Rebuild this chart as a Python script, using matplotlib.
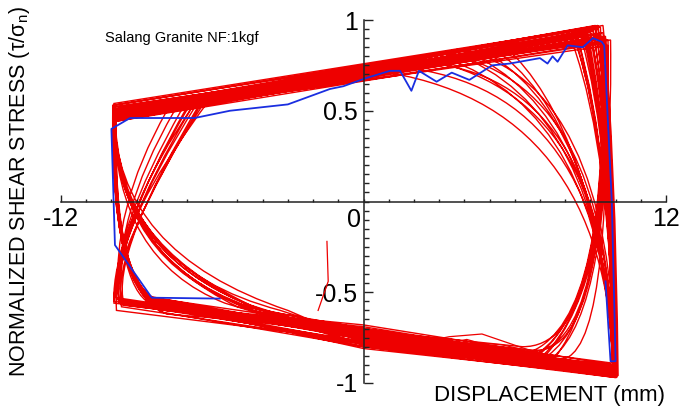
#Shear stress vs displacement loops for the granite joint test
import matplotlib
matplotlib.use('Agg')
import matplotlib.pyplot as plt
from matplotlib.path import Path
from matplotlib.patches import PathPatch
from matplotlib.ticker import MultipleLocator, FixedLocator

plt.rcParams['font.family'] = ['Liberation Sans', 'DejaVu Sans']
plt.rcParams['axes.unicode_minus'] = False

# each cycle: bottom-left start -> (left reversal via control) -> top-left -> top-right
# -> (right reversal via control) -> bottom-right -> stress at 0 mm -> next cycle
x_bl = [-8.3, -8.0, -8.4, -7.9, -9.7, -8.2, -8.6, -4.0, -8.1, -9.8, -8.0, -8.3, -5.0, -9.6, -9.6, -7.8,
        -3.5, -8.2, -9.9, -8.4, -4.5, -8.0, -9.5, -8.3, -3.0, -8.1, -9.8, -8.5, -5.5, -4.6, -9.7, -4.2,
        -8.2, -8.6, -9.6, -8.0, -4.8, -8.3, -8.1, -9.9, -8.4, -9.8, -3.8, -8.2, -9.7, -3.3, -8.1, -4.4]
y_bl = [-0.55, -0.58, -0.53, -0.60, -0.56, -0.57, -0.52, -0.60, -0.56, -0.53, -0.61, -0.54, -0.58, -0.55, -0.58, -0.62,
        -0.62, -0.56, -0.55, -0.53, -0.57, -0.59, -0.57, -0.55, -0.60, -0.57, -0.54, -0.54, -0.56, -0.58, -0.55, -0.59,
        -0.54, -0.55, -0.57, -0.59, -0.58, -0.57, -0.58, -0.56, -0.54, -0.60, -0.61, -0.56, -0.54, -0.60, -0.57, -0.60]
cx_l = [-10.0, -10.05, -9.95, -10.0, -10.05, -10.0, -9.95, -9.9, -10.0, -10.0, -10.0, -9.95, -9.9, -10.0, -10.05, -10.0,
        -9.85, -10.0, -10.0, -9.95, -9.9, -10.0, -10.05, -10.0, -9.9, -10.0, -10.0, -9.95, -9.85, -9.9, -10.05, -9.9,
        -10.0, -9.95, -10.0, -10.0, -9.95, -10.0, -10.05, -10.0, -9.95, -10.0, -9.9, -10.0, -10.05, -9.9, -10.0, -9.9]
cy_l = [-0.42, -0.45, -0.40, -0.48, -0.22, -0.44, -0.38, -0.30, -0.43, -0.18, -0.47, -0.40, -0.25, -0.20, -0.25, -0.50,
        -0.35, -0.44, -0.20, -0.41, -0.22, -0.46, -0.28, -0.43, -0.28, -0.45, -0.15, -0.40, -0.32, -0.33, -0.24, -0.26,
        -0.43, -0.41, -0.10, -0.46, -0.28, -0.44, -0.45, -0.30, -0.40, -0.12, -0.38, -0.42, -0.05, -0.36, -0.45, -0.30]
x_tl = [-9.9, -9.85, -9.9, -9.8, -6.6, -9.95, -9.85, -9.9, -9.9, -7.2, -9.8, -9.9, -9.9, -7.0, -6.2, -9.9,
        -9.9, -9.95, -6.9, -9.85, -9.9, -9.9, -6.4, -9.85, -9.9, -9.9, -6.0, -9.9, -9.9, -9.85, -6.8, -9.9,
        -9.9, -9.85, -7.5, -9.9, -9.9, -9.95, -9.9, -6.3, -9.85, -6.6, -9.9, -9.9, -7.8, -9.85, -9.9, -9.9]
y_tl = [0.46, 0.49, 0.44, 0.51, 0.54, 0.47, 0.50, 0.45, 0.52, 0.51, 0.48, 0.54, 0.47, 0.52, 0.57, 0.50,
        0.48, 0.46, 0.53, 0.51, 0.44, 0.49, 0.56, 0.47, 0.50, 0.45, 0.58, 0.53, 0.46, 0.48, 0.52, 0.47,
        0.48, 0.50, 0.50, 0.46, 0.49, 0.53, 0.47, 0.57, 0.46, 0.56, 0.52, 0.45, 0.50, 0.51, 0.48, 0.46]
x_tr = [9.0, 4.0, 9.6, 9.3, 8.4, 1.5, 9.5, 8.9, 9.4, 8.8, 3.0, 9.1, 9.7, 8.5, 0.5, 9.5,
        8.7, 9.5, 9.0, 2.2, 9.4, 9.8, 8.3, 3.8, 9.2, 9.6, 3.2, 5.5, 9.5, 9.1, 2.8, 8.6,
        8.9, 9.6, 9.2, 8.4, 4.5, 9.4, 9.7, 8.7, 5.0, 9.0, 9.5, 9.4, 8.5, 9.3, 3.5, 8.8]
y_tr = [0.90, 0.83, 0.88, 0.95, 0.90, 0.74, 0.97, 0.88, 0.92, 0.94, 0.82, 0.96, 0.86, 0.89, 0.72, 0.90,
        0.95, 0.90, 0.93, 0.79, 0.91, 0.89, 0.87, 0.84, 0.97, 0.91, 0.79, 0.87, 0.87, 0.94, 0.76, 0.92,
        0.92, 0.90, 0.95, 0.88, 0.85, 0.96, 0.89, 0.91, 0.86, 0.94, 0.93, 0.91, 0.90, 0.97, 0.82, 0.92]
cx_r = [9.9, 9.6, 9.9, 9.95, 9.9, 9.7, 10.0, 9.85, 9.95, 9.9, 9.8, 9.95, 9.85, 9.85, 9.6, 9.9,
        9.9, 9.9, 9.95, 9.9, 9.9, 9.95, 9.85, 9.8, 9.95, 9.9, 9.5, 9.3, 9.85, 9.9, 9.75, 9.9,
        9.9, 9.9, 9.95, 9.85, 9.5, 9.9, 9.85, 9.9, 9.4, 9.9, 9.95, 9.9, 9.85, 9.95, 9.5, 9.9]
cy_r = [0.30, 0.50, -0.50, 0.35, 0.20, 0.62, 0.30, 0.28, -0.85, 0.32, 0.68, 0.25, -0.60, 0.22, 0.55, -0.60,
        0.28, -0.83, 0.30, 0.60, 0.32, -0.45, 0.26, 0.66, 0.30, -0.86, 0.50, 0.40, -0.81, 0.33, 0.64, 0.29,
        0.25, -0.50, 0.30, 0.30, 0.50, -0.65, -0.45, 0.28, 0.45, 0.30, 0.32, -0.55, 0.24, 0.28, 0.52, 0.30]
x_br = [9.95, 9.9, 7.0, 10.05, 9.9, 9.95, 10.1, 9.85, 6.5, 10.0, 9.9, 10.0, 7.5, 9.9, 9.95, 7.3,
        9.9, 6.8, 10.0, 9.9, 9.95, 7.2, 9.9, 10.0, 10.05, 7.8, 9.9, 9.95, 6.3, 10.0, 9.95, 9.9,
        9.95, 7.1, 10.0, 9.9, 9.9, 6.6, 7.6, 9.9, 9.95, 10.0, 10.05, 6.9, 9.9, 10.0, 9.9, 9.95]
y_br = [-0.92, -0.95, -0.84, -0.93, -0.90, -0.93, -0.96, -0.89, -0.83, -0.97, -0.91, -0.94, -0.86, -0.92, -0.95, -0.85,
        -0.96, -0.82, -0.93, -0.90, -0.94, -0.85, -0.91, -0.94, -0.97, -0.87, -0.92, -0.95, -0.80, -0.92, -0.93, -0.93,
        -0.94, -0.85, -0.95, -0.91, -0.92, -0.83, -0.86, -0.93, -0.94, -0.92, -0.95, -0.84, -0.90, -0.97, -0.91, -0.93]
y_back_0 = [-0.72, -0.75, -0.70, -0.77, -0.68, -0.74, -0.79, -0.71, -0.73, -0.80, -0.76, -0.74, -0.69, -0.78, -0.71, -0.75,
            -0.81, -0.72, -0.70, -0.77, -0.73, -0.74, -0.76, -0.78, -0.70, -0.75, -0.72, -0.79, -0.71, -0.74, -0.77, -0.73,
            -0.76, -0.73, -0.78, -0.70, -0.75, -0.79, -0.72, -0.74, -0.77, -0.73, -0.80, -0.71, -0.75, -0.78, -0.74, -0.76]

# odd bits of the red record
spike_x = [-1.45, -1.4, -1.8]
spike_y = [-0.22, -0.44, -0.6]
bump1_x = [2.5, 3.4, 4.7, 6.6, 7.2]
bump1_y = [-0.77, -0.745, -0.73, -0.82, -0.85]
bump2_x = [3.0, 4.1, 4.6, 5.5, 6.8]
bump2_y = [-0.79, -0.76, -0.78, -0.79, -0.83]

# first cycle (blue)
blue_x = [-5.7, -8.4, -9.86, -10.0, -9.26, -6.7, -5.3, -3.0, -1.33, -0.8, 0.1, 1.05, 1.45, 1.9, 2.2, 2.9,
          3.5, 4.2, 5.1, 5.8, 7.0, 7.3, 7.5, 7.7, 8.1, 8.7, 9.1, 9.45, 9.55, 9.85, 10.0, 9.8, 9.6]
blue_y = [-0.535, -0.53, -0.24, 0.40, 0.46, 0.46, 0.50, 0.535, 0.62, 0.635, 0.68, 0.72, 0.72, 0.61, 0.72, 0.66,
          0.71, 0.67, 0.75, 0.76, 0.79, 0.76, 0.80, 0.77, 0.86, 0.85, 0.90, 0.88, 0.86, 0.0, -0.88, -0.88, -0.44]

red = '#ee0000'
blue = '#1a2ee0'

fig = plt.figure(figsize=(6.82, 4.12), dpi=100)
ax = fig.add_axes([61 / 682, 29 / 412, 605 / 682, 363 / 412])

verts = []
codes = []
n = len(x_bl)
for i in range(n):
    if i == 0:
        verts.append((x_bl[i], y_bl[i]))
        codes.append(Path.MOVETO)
    verts += [(cx_l[i], cy_l[i]), (x_tl[i], y_tl[i])]
    codes += [Path.CURVE3, Path.CURVE3]
    verts.append((x_tr[i], y_tr[i]))
    codes.append(Path.LINETO)
    verts += [(cx_r[i], cy_r[i]), (x_br[i], y_br[i])]
    codes += [Path.CURVE3, Path.CURVE3]
    verts.append((0, y_back_0[i]))
    codes.append(Path.LINETO)
    if i + 1 < n:
        verts.append((x_bl[i + 1], y_bl[i + 1]))
        codes.append(Path.LINETO)

ax.add_patch(PathPatch(Path(verts, codes), fill=False, edgecolor=red, lw=1.0))
ax.plot(spike_x, spike_y, color=red, lw=0.9)
ax.plot(bump1_x, bump1_y, color=red, lw=0.9)
ax.plot(bump2_x, bump2_y, color=red, lw=0.9)
ax.plot(blue_x, blue_y, color=blue, lw=1.3)

ax.set_xlim(-12, 12)
ax.set_ylim(-1, 1)
for s in ['top', 'right']:
    ax.spines[s].set_visible(False)
ax.spines['left'].set_position(('data', 0))
ax.spines['bottom'].set_position(('data', 0))
ax.spines['left'].set_linewidth(1.1)
ax.spines['bottom'].set_linewidth(1.1)
ax.spines['left'].set_color('#222222')
ax.spines['bottom'].set_color('#222222')

ax.xaxis.set_major_locator(FixedLocator([-12, 12]))
ax.xaxis.set_minor_locator(MultipleLocator(1))
ax.yaxis.set_major_locator(FixedLocator([-1, -0.5, 0.5, 1]))
ax.yaxis.set_minor_locator(MultipleLocator(0.05))
ax.set_yticklabels(['-1', '-0.5', '0.5', '1'])
ax.tick_params(which='both', direction='in', color='#222222', labelsize=18, width=1.0)
ax.tick_params(axis='x', which='major', length=5, pad=4)
ax.tick_params(axis='x', which='minor', length=2.5)
ax.tick_params(axis='y', which='major', length=6.5, pad=4)
ax.tick_params(axis='y', which='minor', length=3.5)
ax.annotate('0', (0, 0), xytext=(-2, -5), textcoords='offset points',
            ha='right', va='top', fontsize=18)

fig.text(665 / 682, 1 - 395 / 412, 'DISPLACEMENT (mm)', ha='right', va='center', fontsize=16)
fig.text(19.5 / 682, 0.534, 'NORMALIZED SHEAR STRESS (τ/σ$_\\mathregular{n}$)', rotation=90,
         ha='center', va='center', fontsize=15.5)
fig.text(105 / 682, 1 - 38 / 412, 'Salang Granite NF:1kgf', ha='left', va='center', fontsize=10.5)

fig.savefig('out.png', dpi=100)
